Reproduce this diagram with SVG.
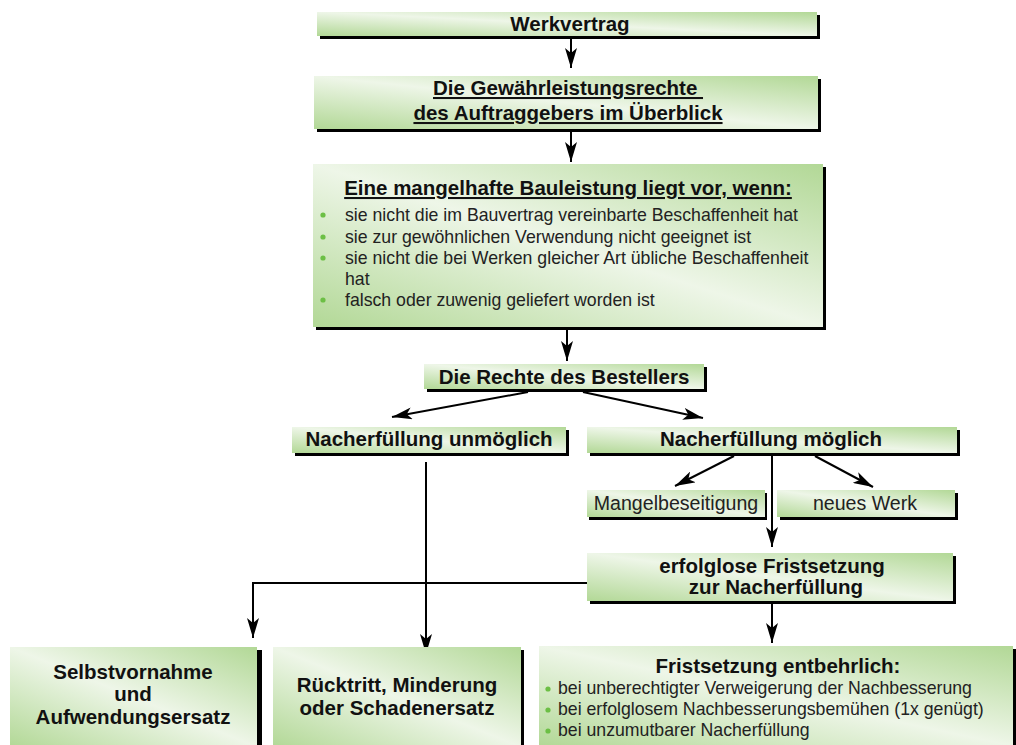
<svg xmlns="http://www.w3.org/2000/svg" width="1016" height="745" viewBox="0 0 1016 745">
<defs>
<linearGradient id="gf" x1="0" y1="1" x2="1" y2="0">
<stop offset="0" stop-color="#b2d896"/>
<stop offset="0.5" stop-color="#eef6e8"/>
<stop offset="1" stop-color="#b2d896"/>
</linearGradient>
<marker id="ah" viewBox="0 0 20 12" refX="20" refY="6" markerWidth="20" markerHeight="12" markerUnits="userSpaceOnUse" orient="auto">
<path d="M0,0 L20,6 L0,12 L5,6 z" fill="#000"/>
</marker>
<style>
.box{fill:url(#gf)}
.sh{fill:#000}
.b{font-family:"Liberation Sans",Arial,sans-serif;font-weight:bold;font-size:20.5px;fill:#111}
.r{font-family:"Liberation Sans",Arial,sans-serif;font-size:17.7px;fill:#222}
.m{font-family:"Liberation Sans",Arial,sans-serif;font-size:19.6px;fill:#222}
.c{text-anchor:middle}
.u{text-decoration:underline}
.dot{fill:#6cbf45}
.ln{fill:none;stroke:#000;stroke-width:2}
</style>
</defs>
<rect width="1016" height="745" fill="#fff"/>

<g id="connectors">
<line class="ln" x1="571" y1="39" x2="571" y2="68" marker-end="url(#ah)"/>
<line class="ln" x1="571" y1="132" x2="571" y2="162" marker-end="url(#ah)"/>
<line class="ln" x1="567" y1="330" x2="567" y2="361" marker-end="url(#ah)"/>
<line class="ln" x1="528" y1="392" x2="392" y2="417" marker-end="url(#ah)"/>
<line class="ln" x1="583" y1="392" x2="703" y2="418" marker-end="url(#ah)"/>
<line class="ln" x1="426" y1="462" x2="426" y2="654" marker-end="url(#ah)"/>
<polyline class="ln" points="587,583 253,583 253,638" marker-end="url(#ah)"/>
<line class="ln" x1="734" y1="456" x2="675" y2="486" marker-end="url(#ah)"/>
<line class="ln" x1="815" y1="456" x2="873" y2="487" marker-end="url(#ah)"/>
<line class="ln" x1="772" y1="456" x2="772" y2="547" marker-end="url(#ah)"/>
<line class="ln" x1="772" y1="604" x2="772" y2="643" marker-end="url(#ah)"/>
</g>

<g id="werkvertrag">
<rect class="sh" x="320" y="15" width="500" height="24"/>
<rect class="box" x="317" y="12" width="500" height="24"/>
<text class="b c" x="570" y="31">Werkvertrag</text>
</g>

<g id="gewaehrleistung">
<rect class="sh" x="317" y="79" width="504" height="53"/>
<rect class="box" x="314" y="76" width="504" height="53"/>
<text class="b u" x="433" y="95">Die Gewährleistungsrechte&#160;</text>
<text class="b u c" x="568" y="120">des Auftraggebers im Überblick</text>
</g>

<g id="mangelhaft">
<rect class="sh" x="316" y="167" width="510" height="163"/>
<rect class="box" x="313" y="164" width="510" height="163"/>
<text class="b u c" x="568" y="195">Eine mangelhafte Bauleistung liegt vor, wenn:</text>
<circle class="dot" cx="323" cy="215" r="2.6"/>
<text class="r" x="345" y="221">sie nicht die im Bauvertrag vereinbarte Beschaffenheit hat</text>
<circle class="dot" cx="323" cy="237" r="2.6"/>
<text class="r" x="345" y="243">sie zur gewöhnlichen Verwendung nicht geeignet ist</text>
<circle class="dot" cx="323" cy="258" r="2.6"/>
<text class="r" x="345" y="264">sie nicht die bei Werken gleicher Art übliche Beschaffenheit</text>
<text class="r" x="345" y="285">hat</text>
<circle class="dot" cx="323" cy="300" r="2.6"/>
<text class="r" x="345" y="306">falsch oder zuwenig geliefert worden ist</text>
</g>

<g id="rechte">
<rect class="sh" x="427" y="367" width="280" height="25"/>
<rect class="box" x="424" y="364" width="280" height="25"/>
<text class="b c" x="564" y="384">Die Rechte des Bestellers</text>
</g>

<g id="unmoeglich">
<rect class="sh" x="295" y="430" width="274" height="26"/>
<rect class="box" x="292" y="427" width="274" height="26"/>
<text class="b c" x="429" y="446">Nacherfüllung unmöglich</text>
</g>

<g id="moeglich">
<rect class="sh" x="590" y="430" width="370" height="26"/>
<rect class="box" x="587" y="427" width="370" height="26"/>
<text class="b c" x="771" y="446">Nacherfüllung möglich</text>
</g>

<g id="mangelbeseitigung">
<rect class="sh" x="589" y="493" width="178" height="27"/>
<rect class="box" x="587" y="490" width="178" height="27"/>
<text class="m c" x="676" y="510">Mangelbeseitigung</text>
</g>

<g id="neueswerk">
<rect class="sh" x="780" y="493" width="178" height="27"/>
<rect class="box" x="777" y="490" width="178" height="27"/>
<text class="m c" x="865" y="510">neues Werk</text>
</g>

<g id="erfolglos">
<rect class="sh" x="590" y="556" width="366" height="48"/>
<rect class="box" x="587" y="553" width="366" height="48"/>
<text class="b c" x="772" y="573">erfolglose Fristsetzung</text>
<text class="b c" x="776" y="594">zur Nacherfüllung</text>
</g>

<g id="selbstvornahme">
<rect class="sh" x="14" y="650" width="248" height="100"/>
<rect class="box" x="10" y="647" width="247" height="100"/>
<text class="b c" x="133" y="679">Selbstvornahme</text>
<text class="b c" x="133" y="701">und</text>
<text class="b c" x="133" y="724">Aufwendungsersatz</text>
</g>

<g id="ruecktritt">
<rect class="sh" x="277" y="650" width="247" height="100"/>
<rect class="box" x="273" y="647" width="248" height="100"/>
<text class="b c" x="397" y="692">Rücktritt, Minderung</text>
<text class="b c" x="397" y="715">oder Schadenersatz</text>
</g>

<g id="entbehrlich">
<rect class="sh" x="543" y="649" width="473" height="100"/>
<rect class="box" x="539" y="646" width="474" height="100"/>
<text class="b c" x="778" y="673">Fristsetzung entbehrlich:</text>
<circle class="dot" cx="548" cy="689" r="2.6"/>
<text class="r" x="558" y="694">bei unberechtigter Verweigerung der Nachbesserung</text>
<circle class="dot" cx="548" cy="710" r="2.6"/>
<text class="r" x="558" y="715">bei erfolglosem Nachbesserungsbemühen (1x genügt)</text>
<circle class="dot" cx="548" cy="731" r="2.6"/>
<text class="r" x="558" y="736">bei unzumutbarer Nacherfüllung</text>
</g>
</svg>
